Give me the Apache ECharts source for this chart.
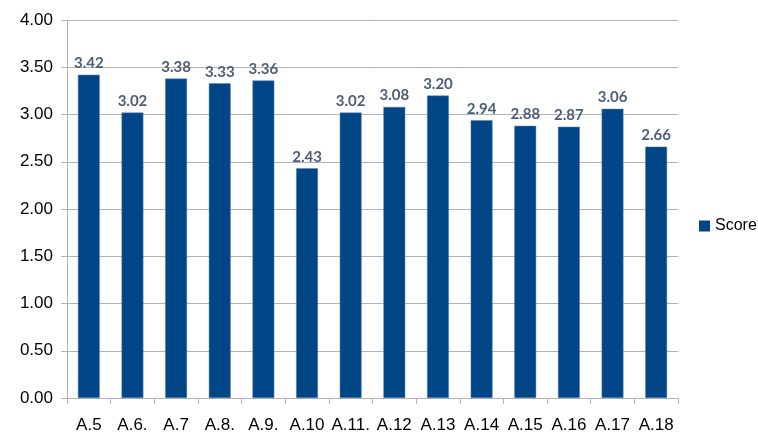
<!DOCTYPE html>
<html>
<head>
<meta charset="utf-8">
<script src="https://cdn.jsdelivr.net/npm/echarts@6/dist/echarts.min.js"></script>
<style>
  html, body { margin: 0; padding: 0; background: #fff; }
  #chart { width: 758px; height: 434px; }
</style>
</head>
<body>
<div id="chart"></div>
<script>
// categories and scores
const categories = ['A.5', 'A.6.', 'A.7', 'A.8.', 'A.9.', 'A.10', 'A.11.', 'A.12', 'A.13', 'A.14', 'A.15', 'A.16', 'A.17', 'A.18'];
const scores = [3.42, 3.02, 3.38, 3.33, 3.36, 2.43, 3.02, 3.08, 3.20, 2.94, 2.88, 2.87, 3.06, 2.66];

const chart = echarts.init(document.getElementById('chart'));

chart.setOption({
  animation: false,
  grid: { left: 67, right: 80, top: 20, bottom: 36 },
  legend: {
    data: ['Score'],
    orient: 'vertical',
    left: 694,
    top: 213,
    itemWidth: 11,
    itemHeight: 11,
    itemGap: 6,
    icon: 'rect',
    itemStyle: { borderWidth: 0 },
    textStyle: { fontFamily: 'Liberation Sans', fontSize: 16, color: '#000' }
  },
  xAxis: {
    type: 'category',
    data: categories,
    axisLine: { lineStyle: { color: '#b3b3b3' } },
    axisTick: { show: true, length: 6, lineStyle: { color: '#b3b3b3' } },
    axisLabel: {
      interval: 0,
      margin: 19,
      fontFamily: 'Liberation Sans',
      fontSize: 17,
      color: '#000'
    }
  },
  yAxis: {
    type: 'value',
    min: 0,
    max: 4,
    interval: 0.5,
    axisLine: { show: true, lineStyle: { color: '#b3b3b3' } },
    axisTick: { show: true, length: 6, lineStyle: { color: '#b3b3b3' } },
    splitLine: { lineStyle: { color: '#b3b3b3' } },
    axisLabel: {
      formatter: v => v.toFixed(2),
      margin: 14,
      fontFamily: 'Liberation Sans',
      fontSize: 17,
      color: '#000'
    }
  },
  series: [{
    name: 'Score',
    type: 'bar',
    data: scores,
    barWidth: '50%',
    itemStyle: { color: '#004586', borderColor: '#5a7fa6', borderWidth: 0.5 },
    label: {
      show: true,
      position: 'top',
      distance: 4,
      formatter: p => p.value.toFixed(2),
      fontFamily: 'Lato',
      fontWeight: 'bold',
      fontSize: 15,
      color: '#4d5d75'
    }
  }]
});
</script>
</body>
</html>
